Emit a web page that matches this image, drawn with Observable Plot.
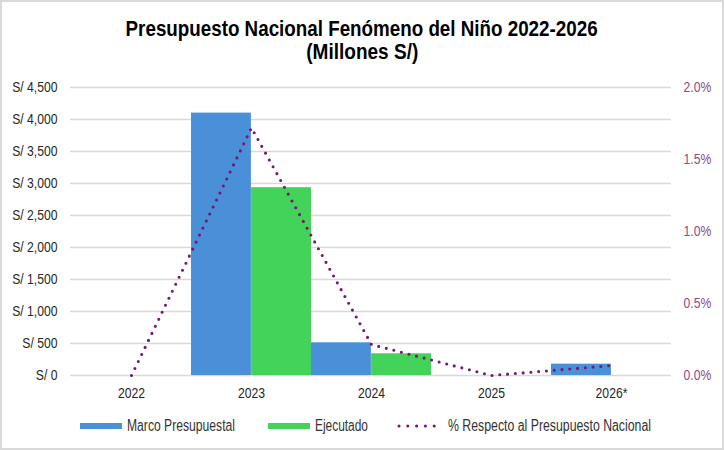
<!DOCTYPE html>
<html><head><meta charset="utf-8">
<script src="https://cdn.jsdelivr.net/npm/d3@7"></script>
<script src="https://cdn.jsdelivr.net/npm/@observablehq/plot@0.6"></script>
<style>
body{margin:0;background:#fff}
#wrap{position:relative;width:724px;height:450px;overflow:hidden;background:#fff;font-family:"Liberation Sans",Arial,sans-serif;}
#frame{position:absolute;left:0;top:0;right:0;bottom:0;border:2px solid #d9d9d9;pointer-events:none}
.tline{position:absolute;left:0;width:724px;text-align:center;font-weight:bold;font-size:22.5px;line-height:23px;height:23px;color:#000;white-space:nowrap}
.tline span{display:inline-block;transform-origin:50% 50%}
#chart{position:absolute;top:72px;left:0}
.ltext{position:absolute;font-size:16px;line-height:20px;color:#333;white-space:nowrap;transform-origin:0 50%}
.sw{position:absolute;height:6px}
</style>
</head><body>
<div id="wrap">
  <div class="tline" style="top:16.7px"><span id="t1">Presupuesto Nacional Fenómeno del Niño 2022-2026</span></div>
  <div class="tline" style="top:39.7px"><span id="t2">(Millones S/)</span></div>
  <div id="chart"></div>
  <div id="legend"></div>
  <div id="frame"></div>
</div>
<script>
const years = ["2022", "2023", "2024", "2025", "2026*"];
const marco = [0, 4100, 511, 0, 177];
const ejecutado = [0, 2935, 339, 0, 0];
const pctNacional = [0, 1.72, 0.215, 0, 0.069];
const leftTicks = [0, 500, 1000, 1500, 2000, 2500, 3000, 3500, 4000, 4500];
const rightTicks = [0, 0.5, 1.0, 1.5, 2.0];
const seriesNames = ["Marco Presupuestal", "Ejecutado", "% Respecto al Presupuesto Nacional"];

const colors = {marco: "#4A90D9", ejec: "#44D35A", pct: "#76186C", right: "#8B4A87"};
const pctToY = 4500 / 2.0;
const FONT = '"Liberation Sans",Arial,sans-serif';
const NARROW = 0.84;

const rows = years.map((y, i) => ({year: y, marco: marco[i], ejec: ejecutado[i], pct: pctNacional[i]}));

const W = 724, mL = 70, mR = 53;
const half = (W - mL - mR) / years.length / 2;

const chart = Plot.plot({
  width: W,
  height: 330,
  marginTop: 15,
  marginBottom: 27,
  marginLeft: mL,
  marginRight: mR,
  style: {fontFamily: FONT, fontSize: "14.5px", color: "#333", background: "transparent"},
  x: {domain: years, padding: 0, axis: null},
  y: {domain: [0, 4500], axis: null},
  marks: [
    Plot.ruleY(leftTicks, {stroke: "#d9d9d9", strokeWidth: 1.5}),
    Plot.barY(rows, {x: "year", y: "marco", fill: colors.marco, insetRight: half}),
    Plot.barY(rows, {x: "year", y: "ejec", fill: colors.ejec, insetLeft: half}),
    Plot.line(rows, {x: "year", y: d => d.pct * pctToY, stroke: colors.pct, strokeWidth: 3.1,
      strokeDasharray: "0 7.8", strokeLinecap: "round", curve: "linear"}),
    Plot.axisX({tickSize: 0, tickPadding: 12.5, label: null, fontSize: 14.5, fill: "#262626"}),
    Plot.axisY({anchor: "left", ticks: leftTicks, tickFormat: d => "S/ " + d3.format(",")(d),
      tickSize: 0, tickPadding: 13, label: null, fill: "#262626"}),
    Plot.axisY({anchor: "right", ticks: rightTicks.map(p => p * pctToY),
      tickFormat: d => (d / pctToY).toFixed(1) + "%", tickSize: 0, tickPadding: 12, label: null, fill: colors.right})
  ]
});
document.getElementById("chart").appendChild(chart);

// narrow the SVG text horizontally about its anchor point (Arial Narrow look)
chart.querySelectorAll("text").forEach(t => {
  const x = parseFloat(t.getAttribute("x")) || 0;
  const y = parseFloat(t.getAttribute("y")) || 0;
  const tr = t.getAttribute("transform") || "";
  t.setAttribute("transform", `${tr} translate(${x} ${y}) scale(${NARROW} 1) translate(${-x} ${-y})`);
});

function fitWidth(el, target) {
  const w = el.getBoundingClientRect().width;
  el.style.transform = `scaleX(${target / w})`;
}
fitWidth(document.getElementById("t1"), 472);
fitWidth(document.getElementById("t2"), 112);

// legend
const legend = document.getElementById("legend");
const swLeft = [80, 268, 399];
const txLeft = [127, 315, 448];
const txWidth = [108, 53, 203];
seriesNames.forEach((name, i) => {
  if (i < 2) {
    const sw = document.createElement("div");
    sw.className = "sw";
    sw.style.left = swLeft[i] + "px";
    sw.style.top = "422.5px";
    sw.style.width = "42px";
    sw.style.background = i === 0 ? colors.marco : colors.ejec;
    legend.appendChild(sw);
  } else {
    const sw = document.createElementNS("http://www.w3.org/2000/svg", "svg");
    sw.setAttribute("width", 48);
    sw.setAttribute("height", 8);
    sw.style.position = "absolute";
    sw.style.left = (swLeft[i] - 2) + "px";
    sw.style.top = "421.5px";
    const ln = document.createElementNS("http://www.w3.org/2000/svg", "line");
    ln.setAttribute("x1", 2); ln.setAttribute("x2", 46);
    ln.setAttribute("y1", 4); ln.setAttribute("y2", 4);
    ln.setAttribute("stroke", colors.pct);
    ln.setAttribute("stroke-width", 3.1);
    ln.setAttribute("stroke-linecap", "round");
    ln.setAttribute("stroke-dasharray", "0 8.8");
    sw.appendChild(ln);
    legend.appendChild(sw);
  }
  const tx = document.createElement("span");
  tx.className = "ltext";
  tx.textContent = name;
  tx.style.left = txLeft[i] + "px";
  tx.style.top = "415.5px";
  legend.appendChild(tx);
  fitWidth(tx, txWidth[i]);
});
</script>
</body></html>
